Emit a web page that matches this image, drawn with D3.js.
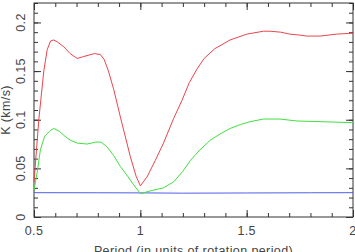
<!DOCTYPE html>
<html>
<head>
<meta charset="utf-8">
<script src="https://cdn.jsdelivr.net/npm/d3@7"></script>
<style>
  body { margin: 0; background: #fff; }
  text { font-family: "Liberation Sans", Helvetica, Arial, sans-serif; fill: #444; letter-spacing: 0.4px; }
</style>
</head>
<body>
<script>
// period values and K amplitudes
var redX   = [0.5, 0.523, 0.546, 0.562, 0.578, 0.592, 0.61, 0.64, 0.67, 0.703, 0.734, 0.784, 0.812, 0.83, 0.85, 0.875, 0.906, 0.953, 0.98, 1.0, 1.031, 1.07, 1.109, 1.156, 1.196, 1.23, 1.266, 1.3, 1.35, 1.422, 1.501, 1.579, 1.61, 1.66, 1.704, 1.75, 1.783, 1.845, 1.923, 2.0];
var redK   = [0.036, 0.101, 0.150, 0.172, 0.181, 0.182, 0.180, 0.175, 0.168, 0.163, 0.165, 0.168, 0.167, 0.162, 0.150, 0.131, 0.103, 0.062, 0.042, 0.032, 0.041, 0.058, 0.076, 0.101, 0.120, 0.138, 0.152, 0.163, 0.173, 0.182, 0.188, 0.191, 0.191, 0.190, 0.188, 0.187, 0.186, 0.186, 0.188, 0.189];

var greenX = [0.5, 0.515, 0.53, 0.55, 0.577, 0.593, 0.62, 0.64, 0.67, 0.703, 0.75, 0.79, 0.815, 0.844, 0.875, 0.906, 0.94, 0.969, 1.0, 1.05, 1.109, 1.156, 1.2, 1.235, 1.28, 1.329, 1.38, 1.422, 1.47, 1.516, 1.579, 1.657, 1.736, 1.845, 2.0];
var greenK = [0.0275, 0.046, 0.069, 0.083, 0.089, 0.091, 0.088, 0.084, 0.079, 0.076, 0.075, 0.077, 0.077, 0.072, 0.063, 0.052, 0.042, 0.033, 0.024, 0.027, 0.030, 0.036, 0.047, 0.058, 0.069, 0.079, 0.086, 0.091, 0.095, 0.098, 0.1007, 0.1007, 0.0987, 0.098, 0.097];

var blueX  = [0.5, 0.8, 1.0, 1.2, 1.5, 1.8, 2.0];
var blueK  = [0.025, 0.0249, 0.0248, 0.0245, 0.0247, 0.0249, 0.025];

var xMajor = [0.5, 1, 1.5, 2];
var yMajor = [0, 0.05, 0.1, 0.15, 0.2];

var margin = {top: 3, right: 2, bottom: 35, left: 34},
    width = 355 - margin.left - margin.right,
    height = 252 - margin.top - margin.bottom;

var svg = d3.select("body").append("svg")
    .attr("width", 355)
    .attr("height", 252)
  .append("g")
    .attr("transform", "translate(" + margin.left + "," + margin.top + ")");

var x = d3.scaleLinear().domain([0.5, 2]).range([0, width]);
var y = d3.scaleLinear().domain([0, 0.22]).range([height, 0]);

// frame
svg.append("rect")
    .attr("width", width).attr("height", height)
    .attr("fill", "none").attr("stroke", "#333").attr("stroke-width", 1);

var xMinor = d3.range(0.5, 2.0001, 0.1);
var yMinor = d3.range(0, 0.2201, 0.01);

function ticks(axis, vals, size) {
  var g = svg.append("g").attr("class", "ax").call(axis.tickValues(vals).tickSize(size).tickFormat(""));
  g.select(".domain").remove();
  g.selectAll("line").attr("stroke", "#333");
  return g;
}

// ticks on every side, pointing inward
ticks(d3.axisBottom(x), xMinor, -4).attr("transform", "translate(0," + height + ")");
ticks(d3.axisBottom(x), xMajor, -7).attr("transform", "translate(0," + height + ")");
ticks(d3.axisTop(x), xMinor, -4);
ticks(d3.axisTop(x), xMajor, -7);
ticks(d3.axisLeft(y), yMinor, -4);
ticks(d3.axisLeft(y), yMajor, -7);
ticks(d3.axisRight(y), yMinor, -4).attr("transform", "translate(" + width + ",0)");
ticks(d3.axisRight(y), yMajor, -7).attr("transform", "translate(" + width + ",0)");

// tick labels
svg.selectAll(".xl").data(xMajor).enter().append("text")
    .attr("x", function(d) { return x(d); })
    .attr("y", height + 18)
    .attr("text-anchor", "middle")
    .style("font-size", "12.5px")
    .text(function(d) { return d3.format("")(d); });

svg.selectAll(".yl").data(yMajor).enter().append("text")
    .attr("transform", function(d) { return "translate(-9," + y(d) + ") rotate(-90)"; })
    .attr("text-anchor", "middle")
    .style("font-size", "12.5px")
    .text(function(d) { return d3.format("")(d); });

// axis titles
svg.append("text")
    .attr("x", width / 2).attr("y", height + 38)
    .attr("text-anchor", "middle")
    .style("font-size", "12.5px")
    .text("Period (in units of rotation period)");

svg.append("text")
    .attr("transform", "translate(-24," + (height / 2) + ") rotate(-90)")
    .attr("text-anchor", "middle")
    .style("font-size", "12.5px")
    .text("K (km/s)");

// curves
var line = d3.line()
    .x(function(d) { return x(d[0]); })
    .y(function(d) { return y(d[1]); });

function draw(xs, ks, col) {
  svg.append("path")
      .datum(d3.zip(xs, ks))
      .attr("fill", "none")
      .attr("stroke", col)
      .attr("stroke-width", 1)
      .attr("stroke-linejoin", "round")
      .attr("d", line);
}

draw(blueX, blueK, "#4f5fe6");
draw(greenX, greenK, "#3fe03f");
draw(redX, redK, "#e8454d");
</script>
</body>
</html>
